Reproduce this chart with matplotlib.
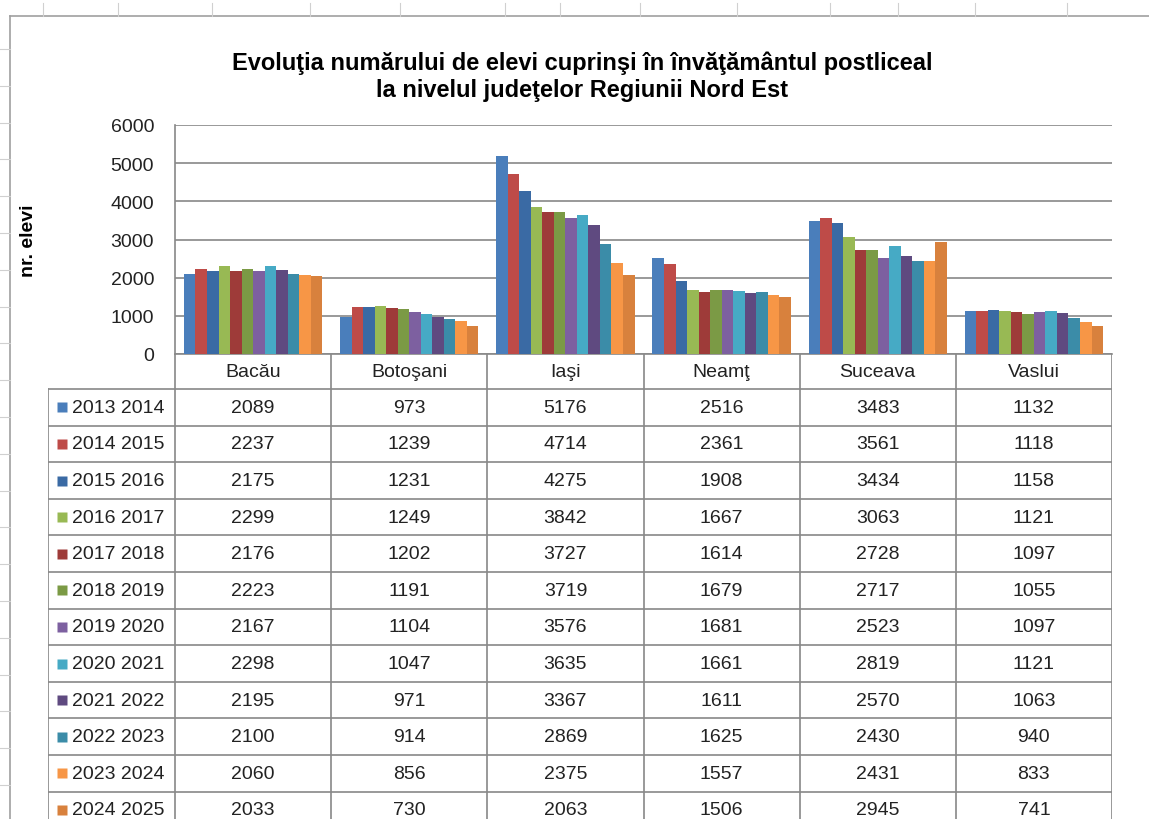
import numpy as np
import matplotlib.pyplot as plt

plt.rcParams['font.family'] = ['Liberation Sans', 'DejaVu Sans']

# date
judete = ['Bacău', 'Botoşani', 'Iaşi', 'Neamţ', 'Suceava', 'Vaslui']
ani = ['2013 2014', '2014 2015', '2015 2016', '2016 2017', '2017 2018', '2018 2019',
       '2019 2020', '2020 2021', '2021 2022', '2022 2023', '2023 2024', '2024 2025']
v2013 = [2089, 973, 5176, 2516, 3483, 1132]
v2014 = [2237, 1239, 4714, 2361, 3561, 1118]
v2015 = [2175, 1231, 4275, 1908, 3434, 1158]
v2016 = [2299, 1249, 3842, 1667, 3063, 1121]
v2017 = [2176, 1202, 3727, 1614, 2728, 1097]
v2018 = [2223, 1191, 3719, 1679, 2717, 1055]
v2019 = [2167, 1104, 3576, 1681, 2523, 1097]
v2020 = [2298, 1047, 3635, 1661, 2819, 1121]
v2021 = [2195, 971, 3367, 1611, 2570, 1063]
v2022 = [2100, 914, 2869, 1625, 2430, 940]
v2023 = [2060, 856, 2375, 1557, 2431, 833]
v2024 = [2033, 730, 2063, 1506, 2945, 741]
serii = [v2013, v2014, v2015, v2016, v2017, v2018,
         v2019, v2020, v2021, v2022, v2023, v2024]
culori = ['#4a7ebb', '#be4b48', '#3a6aa4', '#98b954', '#9e3b39', '#7b9a45',
          '#7d60a0', '#46aac5', '#5f4a80', '#3b8ca8', '#f79646', '#d8813d']

W, H = 1149, 820
fig = plt.figure(figsize=(W / 100, H / 100), dpi=100)


def fx(px):
    return px / W


def fy(py):
    return 1 - py / H


# fundal foaie de calcul + chenarul graficului
bg = fig.add_axes([0, 0, 1, 1], zorder=-5)
bg.set_xlim(0, W)
bg.set_ylim(H, 0)
bg.axis('off')
bg.plot([10, W], [17, 17], color='#a0a0a0', lw=1.2)
bg.plot([10, 10], [17, H], color='#a0a0a0', lw=1.2)
for x in [43, 118, 212, 310, 400, 505, 560, 640, 737, 830, 898, 975, 1067]:
    bg.plot([x, x], [4, 17], color='#d0d0d0', lw=0.8)
for y in np.arange(50, H, 36.8):
    bg.plot([0, 10], [y, y], color='#d0d0d0', lw=0.8)

# grafic
cat_l, cat_r = 175, 1112
ax = fig.add_axes([fx(cat_l), fy(355), fx(cat_r) - fx(cat_l), fy(126) - fy(355)])
x = np.arange(len(judete))
bw = 0.885 / len(serii)
for i, (an, vals) in enumerate(zip(ani, serii)):
    ax.bar(x + (i - (len(serii) - 1) / 2) * bw, vals, bw, color=culori[i], label=an, zorder=3)
ax.set_xlim(-0.5, len(judete) - 0.5)
ax.set_ylim(0, 6000)
ax.set_yticks(range(0, 6001, 1000))
ax.set_xticks([])
ax.tick_params(axis='y', length=0, labelsize=14, pad=15, labelcolor='#222222')
ax.grid(axis='y', color='#888888', lw=1.2, zorder=0)
for s in ['top', 'right']:
    ax.spines[s].set_visible(False)
for s in ['left', 'bottom']:
    ax.spines[s].set_color('#888888')
    ax.spines[s].set_linewidth(1.2)
ax.set_ylabel('nr. elevi', fontsize=14, fontweight='bold', labelpad=0)
ax.yaxis.set_label_coords(-0.147, 0.5)

# tabel de date
cw = (cat_r - cat_l) / len(judete)
leg = (cat_l - 48) / cw
tab = fig.add_axes([fx(48), 0, fx(cat_r) - fx(48), fy(355)])
tab.set_xlim(-0.5 - leg, len(judete) - 0.5)
tab.set_ylim(H, 355)
tab.axis('off')
lc = '#888888'
head_b = 390
rh = 36.6
for k in range(len(judete) + 1):
    tab.plot([k - 0.5, k - 0.5], [355, H], color=lc, lw=1.2)
tab.plot([-0.5 - leg, -0.5 - leg], [head_b, H], color=lc, lw=1.2)
for r in range(len(ani) + 1):
    tab.plot([-0.5 - leg, len(judete) - 0.5], [head_b + r * rh] * 2, color=lc, lw=1.2)
for j, jud in enumerate(judete):
    tab.text(j, (355 + head_b) / 2, jud, ha='center', va='center', fontsize=14, color='#222222')
for r, (an, vals) in enumerate(zip(ani, serii)):
    yc = head_b + (r + 0.5) * rh
    tab.plot(-0.5 - leg + 14 / cw, yc, marker='s', ms=7.5, color=culori[r], mec='none')
    tab.text(-0.5 - leg + 24 / cw, yc, an, ha='left', va='center', fontsize=14, color='#222222')
    for j, v in enumerate(vals):
        tab.text(j, yc, str(v), ha='center', va='center', fontsize=14, color='#222222')

fig.text(fx(582), fy(77), 'Evoluţia numărului de elevi cuprinşi în învăţământul postliceal\n'
         'la nivelul judeţelor Regiunii Nord Est', ha='center', va='center',
         fontsize=17, fontweight='bold', linespacing=1.25)

fig.savefig('out.png', dpi=100)
